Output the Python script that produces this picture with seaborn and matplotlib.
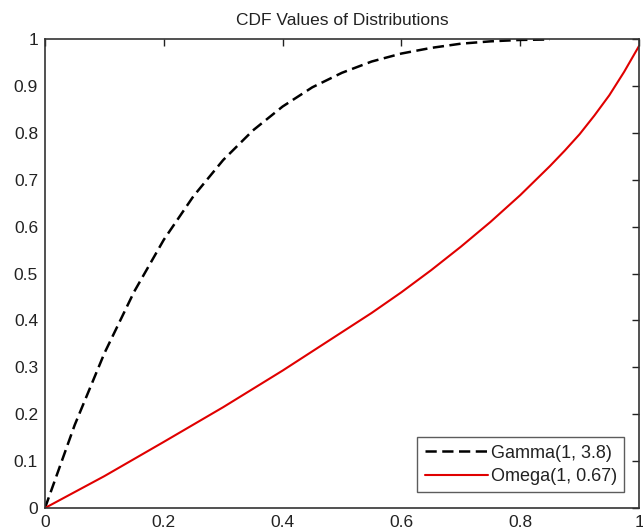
import numpy as np
import pandas as pd
import matplotlib
matplotlib.use("Agg")
import matplotlib.pyplot as plt
import seaborn as sns

# Data
gamma_x = [0.0, 0.05, 0.1, 0.15, 0.2, 0.25, 0.3, 0.35, 0.4, 0.45, 0.5,
           0.55, 0.6, 0.65, 0.7, 0.75, 0.8, 0.85]
gamma_y = [0.0, 0.177, 0.330, 0.461, 0.572, 0.665, 0.742, 0.805, 0.856, 0.897,
           0.928, 0.952, 0.969, 0.981, 0.990, 0.995, 0.998, 0.999]

omega_x = [0.0, 0.1, 0.2, 0.3, 0.4, 0.5, 0.55, 0.6, 0.65, 0.7, 0.75, 0.8, 0.85,
           0.875, 0.9, 0.925, 0.95, 0.975, 0.99, 1.0]
omega_y = [0.0, 0.068, 0.141, 0.215, 0.293, 0.375, 0.416, 0.46, 0.507, 0.557,
           0.610, 0.667, 0.729, 0.762, 0.797, 0.837, 0.880, 0.930, 0.963, 0.985]

labels = ["Gamma(1, 3.8)", "Omega(1, 0.67)"]
x_ticks = [0, 0.2, 0.4, 0.6, 0.8, 1]
x_tick_labels = ["0", "0.2", "0.4", "0.6", "0.8", "1"]
y_ticks = [0, 0.1, 0.2, 0.3, 0.4, 0.5, 0.6, 0.7, 0.8, 0.9, 1]
y_tick_labels = ["0", "0.1", "0.2", "0.3", "0.4", "0.5", "0.6", "0.7", "0.8", "0.9", "1"]
title = "CDF Values of Distributions"

sns.set_style("white")
plt.rcParams["font.family"] = ["Liberation Sans", "DejaVu Sans"]

df_g = pd.DataFrame({"x": gamma_x, "y": gamma_y})
df_o = pd.DataFrame({"x": omega_x, "y": omega_y})

fig = plt.figure(figsize=(6.43, 5.31), dpi=100)
ax = fig.add_axes([45 / 643, 23 / 531, 594 / 643, 469 / 531])

sns.lineplot(data=df_g, x="x", y="y", ax=ax, color="black", linewidth=1.8,
             label=labels[0])
ax.lines[-1].set_dashes((4.5, 2.2))
sns.lineplot(data=df_o, x="x", y="y", ax=ax, color="#e00000", linewidth=1.5,
             label=labels[1])

ax.set_xlim(0, 1)
ax.set_ylim(0, 1)
ax.set_xticks(x_ticks)
ax.set_xticklabels(x_tick_labels)
ax.set_yticks(y_ticks)
ax.set_yticklabels(y_tick_labels)
ax.set_xlabel("")
ax.set_ylabel("")
ax.tick_params(direction="in", length=5, width=1, color="#222222",
               labelsize=12.5, labelcolor="#222222", top=True, right=True,
               pad=5)
for s in ax.spines.values():
    s.set_visible(True)
    s.set_color("#333333")
    s.set_linewidth(1.2)
ax.set_title(title, fontsize=12.5, color="#222222", pad=10)

leg = ax.legend(loc="lower right", bbox_to_anchor=(0.9747, 0.034), fontsize=13,
                frameon=True, fancybox=False, edgecolor="#333333",
                handlelength=3.5, handletextpad=0.15, borderpad=0.4,
                labelspacing=0.35, borderaxespad=0.0)
leg.get_frame().set_linewidth(1.0)
for t in leg.get_texts():
    t.set_color("#222222")

fig.savefig("out.png", dpi=100, facecolor="white")
